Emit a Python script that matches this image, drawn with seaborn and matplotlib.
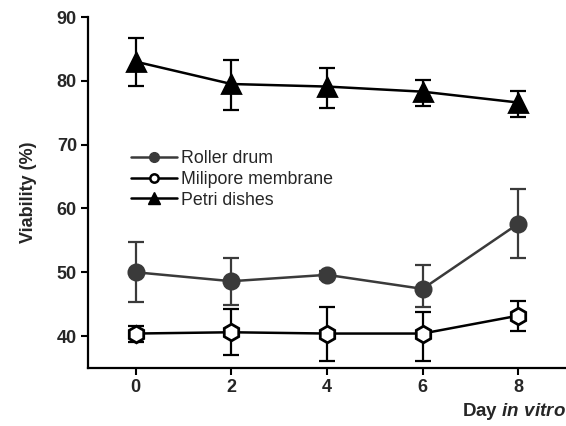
import matplotlib
matplotlib.use("Agg")
import matplotlib.pyplot as plt
import seaborn as sns
import pandas as pd
from matplotlib.lines import Line2D

days = [0, 2, 4, 6, 8]
roller = [50.0, 48.6, 49.6, 47.4, 57.6]
roller_lo = [45.3, 44.9, 49.0, 44.5, 52.2]
roller_hi = [54.7, 52.3, 50.2, 51.2, 63.0]
milipore = [40.4, 40.6, 40.4, 40.4, 43.2]
milipore_lo = [39.1, 37.0, 36.1, 36.1, 40.8]
milipore_hi = [41.6, 44.2, 44.6, 43.8, 45.5]
petri = [83.0, 79.5, 79.1, 78.3, 76.6]
petri_lo = [79.2, 75.5, 75.8, 76.0, 74.4]
petri_hi = [86.7, 83.2, 82.0, 80.2, 78.4]
labels = ["Roller drum", "Milipore membrane", "Petri dishes"]

sns.set_theme(style="ticks")
plt.rcParams['font.family'] = ['Liberation Sans', 'DejaVu Sans']
plt.rcParams['mathtext.fontset'] = 'custom'
plt.rcParams['mathtext.it'] = 'Liberation Sans:bold:italic'
plt.rcParams['mathtext.rm'] = 'Liberation Sans:bold'

fig = plt.figure(figsize=(5.66, 4.26), dpi=100)
ax = fig.add_axes([88/566, 58/426, 478/566, 351/426])

series = [
    (labels[0], roller, roller_lo, roller_hi, '#3a3a3a', 'o', '#3a3a3a', 11),
    (labels[1], milipore, milipore_lo, milipore_hi, '#000000', 'h', 'white', 12),
    (labels[2], petri, petri_lo, petri_hi, '#000000', '^', '#000000', 13),
]

for name, vals, lo, hi, col, mk, fc, ms in series:
    df = pd.DataFrame({'day': days, 'v': vals})
    yerr = [[v - l for v, l in zip(vals, lo)], [h - v for v, h in zip(vals, hi)]]
    ax.errorbar(days, vals, yerr=yerr, fmt='none', ecolor=col, elinewidth=1.6,
                capsize=6, capthick=1.6, zorder=2)
    sns.lineplot(data=df, x='day', y='v', ax=ax, color=col, lw=1.8,
                 marker=mk, markersize=ms, markerfacecolor=fc,
                 markeredgecolor=col, markeredgewidth=2.0, zorder=3)

ax.set_xlim(-1, 9)
ax.set_ylim(35, 90)
ax.set_xticks(days)
ax.set_yticks([40, 50, 60, 70, 80, 90])
for lab in ax.get_xticklabels() + ax.get_yticklabels():
    lab.set_fontweight('bold')
    lab.set_fontsize(13)
ax.tick_params(direction='out', length=5, width=1.5, color='black', pad=3)
for s in ['top', 'right']:
    ax.spines[s].set_visible(False)
for s in ['left', 'bottom']:
    ax.spines[s].set_linewidth(1.6)
    ax.spines[s].set_color('black')

ax.set_ylabel('Viability (%)', fontsize=13, fontweight='bold', labelpad=14)
ax.set_xlabel('')
fig.text(0.999, 14/426, r'Day $\mathit{in\ vitro}$', fontsize=13.5, fontweight='bold',
         ha='right', va='center')

handles = [
    Line2D([], [], color='#3a3a3a', lw=1.8, marker='o', markersize=7,
           markerfacecolor='#3a3a3a', markeredgecolor='#3a3a3a'),
    Line2D([], [], color='black', lw=1.8, marker='o', markersize=6,
           markerfacecolor='white', markeredgecolor='black', markeredgewidth=1.8),
    Line2D([], [], color='black', lw=1.8, marker='^', markersize=8,
           markerfacecolor='black', markeredgecolor='black'),
]
ax.legend(handles, labels, loc='upper left', bbox_to_anchor=(0.075, 0.64),
          frameon=False, fontsize=12.8, handlelength=2.6, handletextpad=0.2,
          labelspacing=0.2, borderaxespad=0)

fig.savefig('out.png', dpi=100)
